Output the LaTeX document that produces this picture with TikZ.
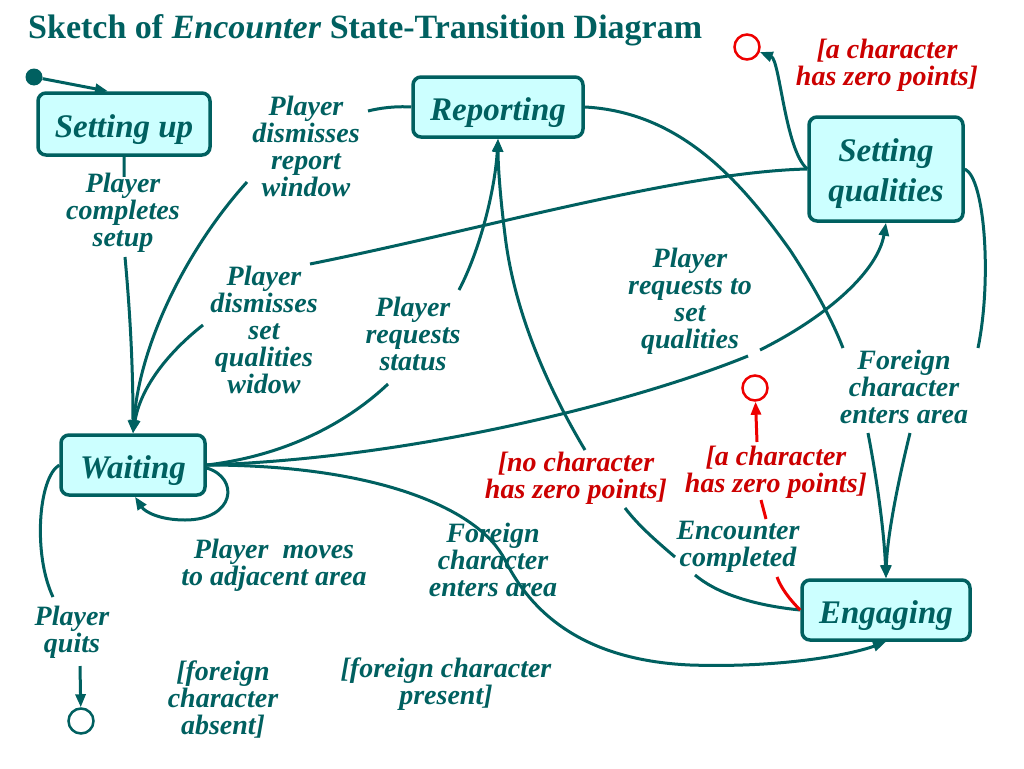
\documentclass[tikz,border=0pt]{standalone}
\usepackage{fontspec}
\setmainfont{Liberation Serif}
\usetikzlibrary{arrows.meta}
\definecolor{tealc}{HTML}{006060}
\definecolor{boxfill}{HTML}{CCFFFF}
\definecolor{redtxt}{HTML}{CC0000}
\definecolor{redline}{HTML}{EE0000}
\begin{document}
\begin{tikzpicture}[x=1pt,y=-1pt,
  state/.style={draw=tealc, line width=3.5pt, fill=boxfill, rounded corners=8pt, text=tealc,
    font=\fontsize{33}{40}\selectfont\bfseries\itshape, inner sep=0pt, align=center},
  onestate/.style={state, text height=33pt, text depth=7pt},
  lbl/.style={text=tealc, align=center, font=\fontsize{28}{27}\selectfont\bfseries\itshape, inner sep=1pt},
  rlbl/.style={lbl, text=redtxt},
  tr/.style={draw=tealc, line width=3pt, -{Triangle[length=13pt,width=10pt]}},
  rtr/.style={draw=redline, line width=3pt, -{Triangle[length=13pt,width=10pt]}},
  fin/.style={circle, draw=tealc, line width=2.5pt, minimum size=25pt, inner sep=0pt},
  rfin/.style={circle, draw=redline, line width=2.5pt, minimum size=25pt, inner sep=0pt},
]
\useasboundingbox[fill=white] (0,0) rectangle (1024,768);

% title
\node[anchor=base west, text=tealc, font=\fontsize{34}{40}\selectfont\bfseries, inner sep=0pt] (title) at (28,38)
  {Sketch of \textit{Encounter} State-Transition Diagram};

% states
\node[onestate, minimum width=172pt, minimum height=62pt] (settingup) at (124,124) {Setting up};
\node[onestate, minimum width=170pt, minimum height=60pt] (reporting) at (498,107) {Reporting};
\node[state, minimum width=154pt, minimum height=104pt] (settingq) at (886,169) {\rule{0pt}{33pt}Setting\\qualities};
\node[onestate, minimum width=144pt, minimum height=60pt] (waiting) at (133,465) {Waiting};
\node[onestate, minimum width=168pt, minimum height=60pt] (engaging) at (886,610) {Engaging};

% pseudo states
\node[circle, fill=tealc, minimum size=17pt, inner sep=0pt] (init) at (34,77) {};
\node[fin] (final) at (81,721) {};
\node[rfin] (redtop) at (747,47) {};
\node[rfin] (redmid) at (755,388) {};
\coordinate (cx108) at (108,0);

% labels
\node[lbl] (l1) at (123,213) {Player\\completes\\setup};
\node[lbl] (l2) at (306,146) {Player\\dismisses\\report\\window};
\node[lbl] (l3) at (264,330) {Player\\dismisses\\set\\qualities\\widow};
\node[lbl] (l4) at (413,334) {Player\\requests\\status};
\node[lbl] (l5) at (690,301) {Player\\requests to\\set\\qualities};
\node[lbl] (l6) at (904,387) {Foreign\\character\\enters area};
\node[rlbl] (l7) at (887,65) {[a character\\has zero points]};
\node[rlbl] (l8) at (576,478) {[no character\\has zero points]};
\node[rlbl] (l9) at (776,472) {[a character\\has zero points]};
\node[lbl] (l10) at (738,547) {Encounter\\completed};
\node[lbl] (l11) at (274,565) {Player\ \ moves\\to adjacent area};
\node[lbl] (l12) at (493,560) {Foreign\\character\\enters area};
\node[lbl] (l13) at (72,632) {Player\\quits};
\node[lbl] (l14) at (223,700) {[foreign\\character\\absent]};
\node[lbl] (l15) at (446,684) {[foreign character\\present]};

% connectors
\draw[tr] (init) -- (settingup.north -| cx108);
\draw[tr] (settingup.south) -- ++(0,20) (125,257) .. controls (128,290) and (133,350) .. (waiting.north);
\draw[tr] (reporting.west) .. controls (395,106) and (380,108) .. (368,111)
  (247,182) .. controls (190,245) and (140,340) .. (waiting.north);
\draw[tr] (settingq.west) .. controls (680,172) and (480,230) .. (310,264)
  (203,325) .. controls (165,355) and (140,390) .. (waiting.north);
\draw[tr] (waiting.east) .. controls (290,455) and (350,420) .. (388,384)
  (459,290) .. controls (480,250) and (495,190) .. (reporting.south);
\draw[tr] (engaging.west) .. controls (750,605) and (715,592) .. (695,575)
  (675,557) .. controls (655,540) and (638,525) .. (625,508)
  (585,450) .. controls (555,400) and (515,320) .. (505,235) .. controls (500,195) and (498,165) .. (reporting.south);
\draw[tr] (waiting.east) .. controls (420,458) and (640,400) .. (748,356)
  (760,350) .. controls (830,315) and (878,270) .. (settingq.south);
\draw[tr] (reporting.east) .. controls (680,112) and (740,180) .. (790,250) .. controls (815,288) and (832,320) .. (843,348)
  (868,433) .. controls (877,480) and (884,530) .. (engaging.north);
\draw[tr] (settingq.east) .. controls (985,178) and (992,280) .. (978,348)
  (910,433) .. controls (896,490) and (887,540) .. (engaging.north);
\draw[tr] (settingq.west) .. controls (785,150) and (780,60) .. (redtop);
\draw[tr] ([yshift=-3pt]waiting.east) .. controls (240,478) and (235,520) .. (185,520)
  .. controls (160,520) and (145,512) .. ([xshift=2pt]waiting.south);
\draw[tr] (waiting.west) .. controls (38,478) and (33,555) .. (53,597) (80,666) -- (final);
\draw[tr] (waiting.east) .. controls (380,465) and (480,510) .. (505,560)
  .. controls (530,610) and (580,660) .. (690,665) .. controls (780,668) and (850,655) .. (engaging.south);
\draw[rtr] (engaging.west) .. controls (790,600) and (781,588) .. (777,577)
  (766,519) -- (761,500) (757,442) -- (redmid);
\end{tikzpicture}
\end{document}
